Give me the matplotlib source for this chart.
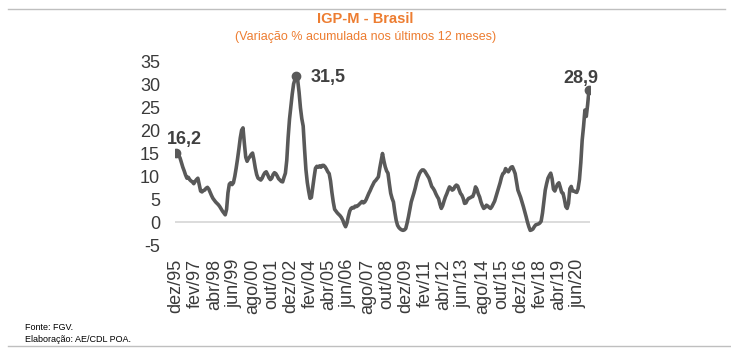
import numpy as np
import matplotlib
matplotlib.use("Agg")
import matplotlib.pyplot as plt

# IGP-M acumulado em 12 meses (%), dez/95 .. fev/21
igpm_1995 = [15.2]
igpm_1996 = [15.0, 14.6, 14.0, 13.0, 12.0, 11.2, 10.3, 9.6, 9.8, 9.3, 9.0, 8.8]
igpm_1997 = [8.4, 8.9, 9.3, 9.6, 8.2, 6.8, 6.6, 6.9, 7.0, 7.4, 7.6, 7.2]
igpm_1998 = [6.5, 5.8, 5.2, 4.8, 4.4, 4.1, 3.8, 3.4, 2.9, 2.4, 2.0, 1.6]
igpm_1999 = [2.8, 6.4, 8.3, 8.6, 8.2, 8.6, 10.0, 11.8, 13.8, 16.0, 18.4, 20.1]
igpm_2000 = [20.6, 17.2, 14.2, 13.3, 13.9, 14.3, 14.8, 15.1, 13.6, 11.8, 10.4, 9.6]
igpm_2001 = [9.4, 9.2, 9.6, 10.3, 10.8, 11.0, 10.4, 9.7, 9.3, 9.6, 10.4, 10.8]
igpm_2002 = [10.6, 10.1, 9.5, 9.2, 8.9, 8.8, 9.8, 10.7, 13.5, 18.5, 22.5, 25.3]
igpm_2003 = [28.0, 30.2, 31.2, 32.0, 31.0, 28.4, 25.0, 22.6, 21.0, 16.0, 11.5, 8.7]
igpm_2004 = [6.8, 5.2, 5.4, 7.6, 9.8, 11.8, 12.2, 12.0, 12.3, 12.0, 12.4, 12.4]
igpm_2005 = [12.1, 11.6, 11.0, 10.6, 9.0, 6.5, 4.4, 2.8, 2.4, 2.0, 1.7, 1.4]
igpm_2006 = [1.0, 0.4, -0.4, -1.0, -0.2, 1.2, 2.4, 3.0, 3.2, 3.1, 3.5, 3.4]
igpm_2007 = [3.6, 3.9, 4.2, 4.5, 4.2, 4.4, 4.9, 5.6, 6.3, 6.9, 7.6, 8.2]
igpm_2008 = [8.8, 9.1, 9.5, 9.9, 11.8, 13.4, 15.0, 13.4, 12.1, 11.2, 10.7, 8.4]
igpm_2009 = [6.3, 5.2, 4.4, 2.2, 0.4, -0.7, -1.2, -1.5, -1.7, -1.8, -1.7, -1.4]
igpm_2010 = [-0.2, 1.2, 2.8, 4.4, 5.4, 6.4, 7.5, 8.8, 9.8, 10.6, 11.1, 11.4]
igpm_2011 = [11.4, 11.1, 10.6, 10.1, 9.6, 8.7, 7.8, 7.4, 6.9, 6.2, 5.6, 5.1]
igpm_2012 = [3.9, 3.0, 3.6, 4.6, 5.5, 6.2, 7.0, 7.7, 7.4, 7.0, 7.2, 7.8]
igpm_2013 = [8.1, 7.9, 7.1, 6.3, 5.9, 5.2, 4.1, 4.2, 4.8, 5.2, 5.3, 5.5]
igpm_2014 = [5.6, 6.4, 7.7, 7.2, 6.2, 5.5, 4.4, 3.6, 3.0, 3.2, 3.7, 3.5]
igpm_2015 = [3.2, 3.0, 3.4, 4.0, 4.6, 5.6, 6.6, 7.6, 8.6, 9.8, 10.6, 10.8]
igpm_2016 = [11.7, 11.3, 11.0, 11.5, 12.0, 12.1, 11.4, 10.6, 8.8, 7.0, 6.2, 5.4]
igpm_2017 = [4.4, 3.4, 2.3, 1.2, 0.0, -1.0, -1.8, -1.7, -1.5, -1.0, -0.6, -0.5]
igpm_2018 = [-0.4, -0.2, 0.2, 2.0, 4.5, 7.0, 8.4, 9.6, 10.2, 10.7, 9.5, 7.2]
igpm_2019 = [6.8, 7.6, 8.3, 8.6, 7.6, 6.5, 6.3, 5.0, 3.4, 3.0, 4.1, 7.3]
igpm_2020 = [7.8, 6.8, 6.8, 6.6, 6.5, 7.3, 9.3, 13.0, 17.9, 20.9, 24.5, 23.1]
igpm_2021 = [25.7, 28.9]

meses = ["jan", "fev", "mar", "abr", "mai", "jun",
         "jul", "ago", "set", "out", "nov", "dez"]
tick_every = 14
y_ticks = [-5, 0, 5, 10, 15, 20, 25, 30, 35]
data_labels = ["16,2", "31,5", "28,9"]

serie = (igpm_1995 + igpm_1996 + igpm_1997 + igpm_1998 + igpm_1999 + igpm_2000
         + igpm_2001 + igpm_2002 + igpm_2003 + igpm_2004 + igpm_2005 + igpm_2006
         + igpm_2007 + igpm_2008 + igpm_2009 + igpm_2010 + igpm_2011 + igpm_2012
         + igpm_2013 + igpm_2014 + igpm_2015 + igpm_2016 + igpm_2017 + igpm_2018
         + igpm_2019 + igpm_2020 + igpm_2021)
serie = np.array(serie)
n = len(serie)
x = np.arange(n)

# rótulos do eixo: dez/95 + k meses
rotulos = []
for i in range(n):
    mm = (11 + i) % 12
    aa = (1995 + (11 + i) // 12) % 100
    rotulos.append("%s/%02d" % (meses[mm], aa))

laranja = "#ED7D31"
cinza = "#595959"
arial = ["Liberation Sans", "DejaVu Sans"]

fig = plt.figure(figsize=(7.31, 3.56), dpi=100)
ax = fig.add_axes([175.3 / 731, 1 - 245 / 356, 414.4 / 731, 183 / 356])

ax.axhline(0, color="#D9D9D9", lw=1.3, zorder=1)
ax.plot(x, serie, color=cinza, lw=2.6, solid_joinstyle="round", zorder=3)

# pontos destacados: início, pico, fim
i_pico = int(np.argmax(serie))
destaques = [0, i_pico, n - 1]
ax.plot(x[destaques], serie[destaques], "o", color=cinza, ms=6, zorder=4)
offsets = [((6, 3), "center", "bottom"), ((10, -1), "left", "center"), ((-6, 2), "center", "bottom")]
for idx, lab, (off, ha, va) in zip(destaques, data_labels, offsets):
    ax.annotate(lab, (x[idx], serie[idx]), xytext=off, textcoords="offset points",
                ha=ha, va=va, fontsize=13, fontweight="bold", color="#404040",
                family=arial)

ax.set_xlim(-0.5, n - 0.5)
ax.set_ylim(-5, 35)
ax.set_yticks(y_ticks)
ax.set_yticklabels([str(v) for v in y_ticks], family=arial, fontsize=13, color="#3A3A3A")
pos = list(range(0, n, tick_every))
ax.set_xticks(pos)
ax.set_xticklabels([rotulos[p] for p in pos], rotation=90, family=arial,
                   fontsize=13, color="#3A3A3A")
ax.tick_params(axis="y", length=0, pad=11)
ax.tick_params(axis="x", length=0, pad=10)
for s in ax.spines.values():
    s.set_visible(False)

# título
fig.text(0.5, 1 - 19 / 356, "IGP-M - Brasil", ha="center", va="center",
         fontsize=10.5, fontweight="bold", color=laranja, family=arial)
fig.text(0.5, 1 - 37 / 356, "(Variação % acumulada nos últimos 12 meses)",
         ha="center", va="center", fontsize=9, color=laranja, family=arial)

# rodapé
fig.text(25 / 731, 1 - 327 / 356, "Fonte: FGV.", ha="left", va="center",
         fontsize=6.5, color="black", family=arial)
fig.text(25 / 731, 1 - 339 / 356, "Elaboração: AE/CDL POA.", ha="left", va="center",
         fontsize=6.5, color="black", family=arial)

# linhas de moldura
fig.add_artist(plt.Line2D([8 / 731, 725 / 731], [1 - 9 / 356, 1 - 9 / 356],
                          color="#BFBFBF", lw=1))
fig.add_artist(plt.Line2D([8 / 731, 1], [1 - 346 / 356, 1 - 346 / 356],
                          color="#BFBFBF", lw=1))

fig.savefig("out.png", dpi=100)
